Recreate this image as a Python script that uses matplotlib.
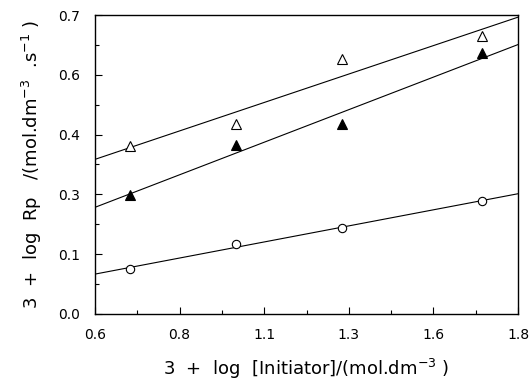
import numpy as np
import matplotlib
matplotlib.use("Agg")
import matplotlib.pyplot as plt

# data
x_init = [0.699, 1.0, 1.301, 1.699]
rp_open_tri = [0.393, 0.445, 0.597, 0.651]
rp_fill_tri = [0.279, 0.396, 0.444, 0.610]
rp_circle = [0.105, 0.163, 0.201, 0.265]

x_ticks = np.linspace(0.6, 1.8, 6)
y_ticks = np.linspace(0.0, 0.7, 6)

plt.rcParams['font.family'] = ['DejaVu Sans']

fig = plt.figure(figsize=(5.32, 3.81), dpi=100)
ax = fig.add_axes([0.1786, 0.1759, 0.9737 - 0.1786, 0.9606 - 0.1759])

xfit = np.array([0.6, 1.8])
series = [
    (rp_open_tri, dict(marker='^', mfc='white', mec='black', ms=6.5, mew=0.8)),
    (rp_fill_tri, dict(marker='^', mfc='black', mec='black', ms=6.5, mew=0.8)),
    (rp_circle, dict(marker='o', mfc='white', mec='black', ms=6, mew=0.8)),
]
for yv, style in series:
    k, b = np.polyfit(x_init, yv, 1)
    ax.plot(xfit, k * xfit + b, color='black', lw=0.8)
    ax.plot(x_init, yv, ls='none', **style)

ax.set_xlim(0.6, 1.8)
ax.set_ylim(0.0, 0.7)
ax.set_xticks(x_ticks)
ax.set_yticks(y_ticks)
ax.set_xticklabels([f"{v:.1f}" for v in x_ticks])
ax.set_yticklabels([f"{v:.1f}" for v in y_ticks])
ax.set_xticks((x_ticks[:-1] + x_ticks[1:]) / 2, minor=True)
ax.set_yticks((y_ticks[:-1] + y_ticks[1:]) / 2, minor=True)
ax.tick_params(which='both', direction='in', labelsize=10, width=0.8)
ax.tick_params(which='major', length=5)
ax.tick_params(axis='x', which='major', pad=10)
ax.tick_params(axis='y', which='major', pad=11)
ax.tick_params(which='minor', length=3)
for s in ax.spines.values():
    s.set_linewidth(1.0)

ax.set_xlabel(r"3  +  log  [Initiator]/(mol.dm$^{-3}$ )", fontsize=13, labelpad=11)
ax.set_ylabel(r"3  +  log  Rp   /(mol.dm$^{-3}$  .s$^{-1}$ )", fontsize=13, labelpad=10)

fig.savefig("out.png", dpi=100)
